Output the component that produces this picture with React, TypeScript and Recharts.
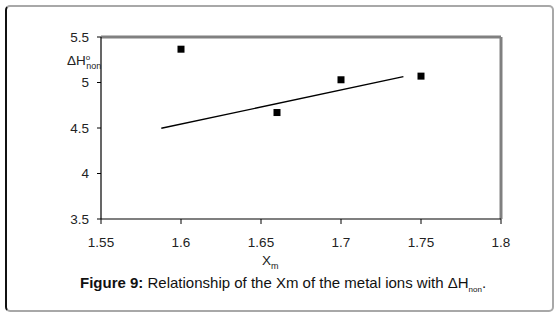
import React from "react";
import {
  ScatterChart,
  Scatter,
  XAxis,
  YAxis,
  ReferenceLine,
} from "recharts";

const xmValues = [1.6, 1.66, 1.7, 1.75];
const dhValues = [5.366, 4.67, 5.03, 5.07];
const trendX = [1.5877, 1.739];
const trendY = [4.497, 5.064];
const xTicks = [1.55, 1.6, 1.65, 1.7, 1.75, 1.8];
const yTicks = [3.5, 4, 4.5, 5, 5.5];

const points = xmValues.map((x, i) => ({ x, y: dhValues[i] }));
const trendSegment = trendX.map((x, i) => ({ x, y: trendY[i] }));

const FONT = "'Liberation Sans', Arial, sans-serif";

const SquareShape = (props: any) => {
  const { cx, cy } = props;
  if (cx == null || cy == null) return null;
  return <rect x={cx - 3.5} y={cy - 3.5} width={7} height={7} fill="#000" />;
};

export default function App() {
  return (
    <div
      style={{
        position: "fixed",
        left: 0,
        top: 0,
        width: 556,
        height: 318,
        background: "#fff",
        fontFamily: FONT,
        overflow: "hidden",
      }}
    >
      <div style={{ position: "absolute", left: 0, top: 0 }}>
        <ScatterChart
          width={556}
          height={318}
          margin={{ top: 37, right: 55, bottom: 69, left: 41 }}
        >
          <XAxis
            type="number"
            dataKey="x"
            domain={[1.55, 1.8]}
            ticks={xTicks}
            tickFormatter={(v: number) => String(v)}
            axisLine={{ stroke: "#000", strokeWidth: 1.2 }}
            tickLine={{ stroke: "#000" }}
            tickSize={5}
            tickMargin={13}
            tick={{ fill: "#222", fontSize: 13.5, fontFamily: FONT }}
            height={30}
            allowDataOverflow
          />
          <YAxis
            type="number"
            dataKey="y"
            domain={[3.5, 5.5]}
            ticks={yTicks}
            tickFormatter={(v: number) => String(v)}
            axisLine={{ stroke: "#000", strokeWidth: 1.2 }}
            tickLine={{ stroke: "#000" }}
            tickSize={4}
            tickMargin={8}
            tick={{ fill: "#222", fontSize: 13.5, fontFamily: FONT }}
            width={60}
            allowDataOverflow
          />
          <ReferenceLine y={5.5} stroke="#808080" strokeWidth={3} ifOverflow="visible" />
          <ReferenceLine x={1.8} stroke="#808080" strokeWidth={3} ifOverflow="visible" />
          <ReferenceLine
            segment={trendSegment}
            stroke="#000"
            strokeWidth={1.4}
            ifOverflow="visible"
          />
          <Scatter
            data={points}
            shape={SquareShape}
            isAnimationActive={false}
          />
        </ScatterChart>
      </div>
      <div
        style={{
          position: "absolute",
          left: 5,
          top: 5,
          width: 545,
          height: 303,
          borderTop: "2px solid #a8a8a8",
          borderRight: "2px solid #a8a8a8",
          borderBottom: "2px solid #a8a8a8",
          borderLeft: "2px solid #111",
          borderRadius: 5,
          pointerEvents: "none",
        }}
      />
      <div
        style={{
          position: "absolute",
          left: 67,
          top: 53,
          fontSize: 13.5,
          color: "#222",
          whiteSpace: "nowrap",
          lineHeight: "16px",
        }}
      >
        ΔH
        <span style={{ fontSize: 8, position: "relative", top: -5 }}>o</span>
        <span style={{ fontSize: 9, position: "relative", top: 4, marginLeft: -4 }}>non</span>
      </div>
      <div
        style={{
          position: "absolute",
          left: 262,
          top: 253,
          fontSize: 13.5,
          color: "#222",
          whiteSpace: "nowrap",
          lineHeight: "16px",
        }}
      >
        X<span style={{ fontSize: 9, position: "relative", top: 4 }}>m</span>
      </div>
      <div
        style={{
          position: "absolute",
          left: 80,
          top: 274,
          fontSize: 15,
          color: "#111",
          whiteSpace: "nowrap",
          lineHeight: "18px",
        }}
      >
        <b>Figure 9:</b> Relationship of the Xm of the metal ions with ΔH
        <span style={{ fontSize: 8, position: "relative", top: 4 }}>non</span>.
      </div>
    </div>
  );
}
